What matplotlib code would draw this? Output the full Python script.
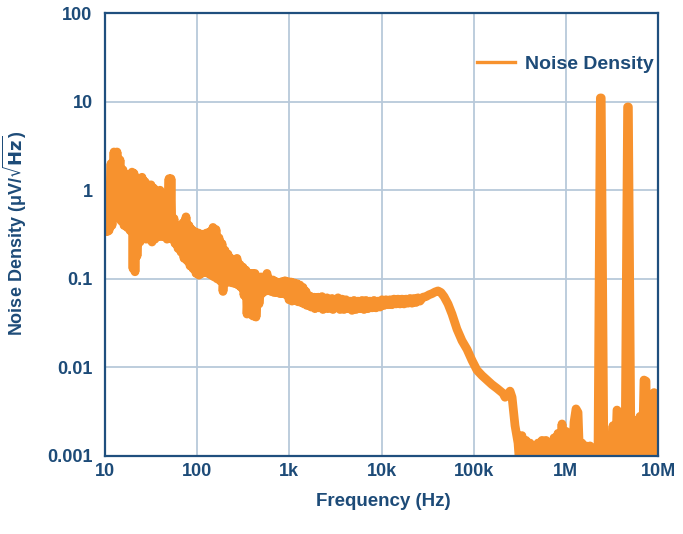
import matplotlib
matplotlib.use("Agg")
import matplotlib.pyplot as plt
from matplotlib.lines import Line2D

# ---------------- data ----------------
# low-frequency region: rapidly fluctuating density (10 Hz .. 3.4 kHz)
freq_low = [10.51, 10.78, 11.05, 11.62, 11.91, 12.52, 12.84, 13.50, 13.84, 14.55,
            14.92, 15.68, 16.08, 16.90, 17.33, 18.22, 18.68, 19.64, 20.13, 20.64,
            21.16, 21.70, 22.25, 23.39, 23.98, 25.21, 25.85, 27.16, 27.85, 29.28,
            30.02, 31.56, 32.36, 34.01, 34.87, 36.66, 37.59, 39.52, 40.52, 42.60,
            43.67, 45.91, 47.07, 49.49, 50.74, 52.02, 53.34, 56.07, 57.49, 60.43,
            61.96, 65.14, 66.78, 70.21, 71.99, 75.68, 77.59, 81.57, 83.63, 87.90,
            90.12, 94.74, 97.13, 102.1, 104.7, 110.1, 112.8, 118.6, 121.6, 127.9,
            131.1, 137.8, 141.3, 148.5, 152.3, 160.1, 164.2, 172.6, 176.9, 186.0,
            190.7, 200.4, 205.5, 216.0, 221.5, 232.8, 238.8, 251.0, 257.4, 270.5,
            277.4, 291.6, 299.0, 314.3, 322.3, 338.8, 347.4, 365.2, 374.4, 393.6,
            403.6, 424.3, 435.0, 457.2, 468.8, 492.8, 505.3, 531.1, 544.5, 572.4,
            586.9, 616.9, 632.5, 664.9, 681.7, 716.6, 734.7, 772.3, 791.8, 832.3,
            853.4, 897.1, 919.8, 966.9, 991.7, 1042, 1069, 1124, 1152, 1211,
            1242, 1305, 1338, 1407, 1443, 1517, 1555, 1676, 1719, 1852,
            1899, 2047, 2098, 2262, 2319, 2563, 2627, 2904, 2978, 3373]
noise_low = [0.34, 1.0, 0.35, 2.0, 0.4, 2.7, 0.6, 2.7, 0.55, 2.2,
             0.45, 1.7, 0.4, 1.45, 0.38, 1.5, 0.35, 1.6, 0.13, 1.55,
             0.12, 1.35, 0.18, 1.25, 0.26, 1.4, 0.3, 1.25, 0.28, 1.15,
             0.28, 1.15, 0.26, 1.05, 0.28, 0.95, 0.3, 1.0, 0.3, 0.72,
             0.3, 0.78, 0.28, 1.35, 0.3, 1.35, 0.28, 0.48, 0.25, 0.4,
             0.22, 0.38, 0.2, 0.43, 0.17, 0.5, 0.16, 0.4, 0.14, 0.36,
             0.13, 0.34, 0.115, 0.33, 0.11, 0.32, 0.115, 0.32, 0.12, 0.33,
             0.115, 0.34, 0.11, 0.38, 0.105, 0.36, 0.1, 0.29, 0.095, 0.25,
             0.072, 0.21, 0.09, 0.19, 0.092, 0.17, 0.09, 0.16, 0.088, 0.17,
             0.085, 0.145, 0.08, 0.135, 0.065, 0.125, 0.04, 0.115, 0.04, 0.115,
             0.038, 0.115, 0.037, 0.105, 0.052, 0.105, 0.068, 0.105, 0.072, 0.115,
             0.075, 0.098, 0.072, 0.097, 0.07, 0.093, 0.07, 0.09, 0.068, 0.093,
             0.068, 0.095, 0.066, 0.093, 0.058, 0.092, 0.056, 0.09, 0.057, 0.088,
             0.055, 0.085, 0.054, 0.08, 0.052, 0.072, 0.05, 0.064, 0.048, 0.062,
             0.046, 0.062, 0.047, 0.063, 0.045, 0.061, 0.046, 0.06, 0.045, 0.061]

# mid region: flat floor, hump near 40 kHz and roll-off (3.5 kHz .. 300 kHz)
freq_mid = [3545, 3728, 3919, 4120, 4331, 4552, 4786, 5031, 5289, 5560,
            5845, 6144, 6459, 6790, 7138, 7504, 7888, 8293, 8717, 9164,
            9633, 10130, 10650, 11190, 11770, 12370, 13000, 13670, 14370, 15110,
            15880, 16690, 17550, 18450, 19390, 20390, 21430, 22530, 23680, 24900,
            26170, 28200, 30400, 32800, 35300, 38100, 41000, 44200, 47700, 52700,
            58200, 65900, 74700, 84700, 95900, 108700, 123100, 139600, 158000, 179000,
            208000, 219000, 230000, 248000, 261000, 281000, 303000]
noise_mid = [0.045, 0.059, 0.045, 0.058, 0.046, 0.056, 0.044, 0.057, 0.045, 0.056,
             0.046, 0.057, 0.045, 0.057, 0.046, 0.056, 0.047, 0.057, 0.047, 0.056,
             0.048, 0.058, 0.05, 0.058, 0.051, 0.058, 0.051, 0.059, 0.052, 0.059,
             0.052, 0.059, 0.052, 0.059, 0.053, 0.06, 0.053, 0.06, 0.054, 0.061,
             0.056, 0.062, 0.063, 0.066, 0.068, 0.071, 0.073, 0.07, 0.063, 0.052,
             0.04, 0.027, 0.02, 0.016, 0.012, 0.0093, 0.0081, 0.0072, 0.0064, 0.0058,
             0.0051, 0.0046, 0.0048, 0.0054, 0.0046, 0.0022, 0.0014]

# high region: noise floor and the two spurs (318 kHz .. 10 MHz)
freq_high = [318e3, 334e3, 352e3, 370e3, 389e3, 409e3, 430e3, 451e3, 475e3, 499e3,
             525e3, 551e3, 580e3, 609e3, 641e3, 674e3, 708e3, 744e3, 782e3, 822e3,
             865e3, 909e3, 956e3, 1.004e6, 1.056e6, 1.11e6, 1.167e6, 1.227e6, 1.29e6, 1.356e6,
             1.425e6, 1.498e6, 1.575e6, 1.656e6, 1.74e6, 1.83e6, 1.924e6, 2.02e6, 2.125e6, 2.234e6,
             2.37e6, 2.42e6, 2.59e6, 2.80e6, 2.94e6, 3.09e6, 3.25e6, 3.42e6, 3.59e6, 3.78e6,
             3.97e6, 4.17e6, 4.39e6, 4.68e6, 4.77e6, 5.10e6, 5.22e6, 5.49e6, 5.77e6, 6.07e6,
             6.38e6, 6.71e6, 7.05e6, 7.41e6, 7.60e6, 7.99e6, 8.19e6, 8.61e6, 9.05e6, 9.51e6,
             10e6]
noise_high = [0.0007, 0.0017, 0.0007, 0.0015, 0.0007, 0.0014, 0.0007, 0.0013, 0.0007, 0.0014,
              0.0007, 0.0015, 0.0007, 0.0015, 0.0007, 0.0014, 0.0007, 0.0016, 0.0007, 0.0018,
              0.0007, 0.0023, 0.0007, 0.0019, 0.0007, 0.0016, 0.0007, 0.0024, 0.0034, 0.0031,
              0.0007, 0.0014, 0.0007, 0.0013, 0.0007, 0.0013, 0.0007, 0.0012, 0.0007, 0.0011,
              11.0, 11.0, 0.0009, 0.001, 0.0007, 0.0011, 0.0022, 0.0007, 0.0033, 0.0031,
              0.0007, 0.0018, 0.0009, 8.7, 8.7, 0.0008, 0.0025, 0.0007, 0.0025, 0.0007,
              0.0028, 0.0007, 0.0072, 0.007, 0.0007, 0.0045, 0.0007, 0.0045, 0.0052, 0.0007,
              0.0015]

x_ticks = [10, 100, 1e3, 1e4, 1e5, 1e6, 1e7]
x_tick_labels = ['10', '100', '1k', '10k', '100k', '1M', '10M']
y_ticks = [0.001, 0.01, 0.1, 1, 10, 100]
y_tick_labels = ['0.001', '0.01', '0.1', '1', '10', '100']
series_name = 'Noise Density'

# ---------------- styling ----------------
ORANGE = '#F7922E'
NAVY = '#1D4B78'
GRID = '#B8C9DA'
SPINE = '#1F4F7E'

plt.rcParams['font.family'] = ['Liberation Sans', 'DejaVu Sans']
plt.rcParams['font.weight'] = 'bold'
plt.rcParams['mathtext.fontset'] = 'dejavusans'

fig = plt.figure(figsize=(6.83, 5.34), dpi=100)
ax = fig.add_axes([105 / 683, 78 / 534, 553 / 683, 443 / 534])

freq = freq_low + freq_mid + freq_high
noise = noise_low + noise_mid + noise_high
ax.plot(freq, noise, color=ORANGE, lw=6.3, solid_joinstyle='round',
        solid_capstyle='round', zorder=3)

ax.set_xscale('log')
ax.set_yscale('log')
ax.set_xlim(10, 1e7)
ax.set_ylim(0.001, 100)
ax.set_xticks(x_ticks)
ax.set_xticklabels(x_tick_labels)
ax.set_yticks(y_ticks)
ax.set_yticklabels(y_tick_labels)
ax.minorticks_off()
ax.tick_params(axis='both', length=0, labelsize=13, labelcolor=NAVY)
ax.tick_params(axis='x', pad=5)
ax.tick_params(axis='y', pad=9)
for lab in ax.get_xticklabels() + ax.get_yticklabels():
    lab.set_fontweight('bold')

ax.set_axisbelow(True)
ax.grid(True, which='major', color=GRID, lw=1.3)
for s in ax.spines.values():
    s.set_color(SPINE)
    s.set_linewidth(1.6)
    s.set_zorder(4)

ax.set_xlabel('Frequency (Hz)', fontsize=13.5, fontweight='bold', color=NAVY)
ax.xaxis.set_label_coords(0.503, -0.083)
ax.set_ylabel(r'Noise Density (μV/$\sqrt{\mathbf{Hz}}$)', fontsize=13,
              fontweight='bold', color=NAVY)
ax.yaxis.set_label_coords(-0.137, 0.504)

handle = Line2D([], [], color=ORANGE, lw=2.4)
leg = ax.legend([handle], [series_name], loc='center right',
                bbox_to_anchor=(1.0, 0.885), frameon=False, borderaxespad=0,
                borderpad=0.2, handlelength=1.95, handletextpad=0.55,
                prop={'family': 'Liberation Sans', 'weight': 'bold', 'size': 14})
for t in leg.get_texts():
    t.set_color(NAVY)

fig.savefig('out.png', dpi=100)
